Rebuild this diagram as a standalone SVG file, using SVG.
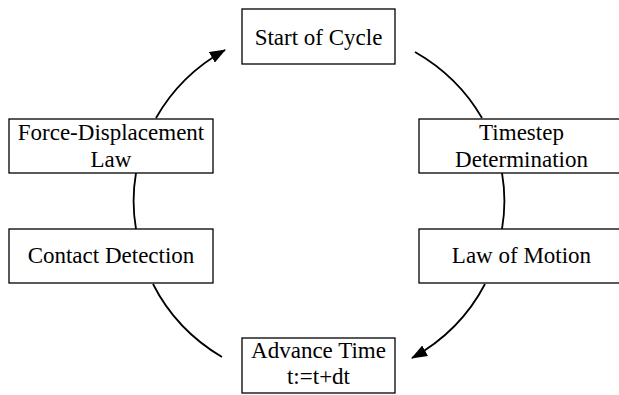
<svg xmlns="http://www.w3.org/2000/svg" width="619" height="395" viewBox="0 0 619 395">
<defs>
<style>
.box{fill:#fff;stroke:#000;stroke-width:1.3}
.lbl{font-family:"Liberation Serif","Times New Roman",serif;font-size:23px;fill:#000;text-anchor:middle}
.edge{fill:none;stroke:#000;stroke-width:1.8}
</style>
<marker id="arr" viewBox="0 0 16 12" refX="15" refY="6" markerWidth="16" markerHeight="12" markerUnits="userSpaceOnUse" orient="auto">
<path d="M0,0 L16,6 L0,12 z" fill="#000"/>
</marker>
</defs>
<rect width="619" height="395" fill="#fff"/>
<g id="connectors">
<path class="edge" d="M415,52 A186 175 0 0 1 482,118"/>
<path class="edge" d="M502,173 A186 175 0 0 1 502,229"/>
<path class="edge" d="M485,284 A186 175 0 0 1 412,358" marker-end="url(#arr)"/>
<path class="edge" d="M222,357 A186 175 0 0 1 153,284"/>
<path class="edge" d="M136,229 A186 175 0 0 1 136,173"/>
<path class="edge" d="M156,118 A186 175 0 0 1 225,50" marker-end="url(#arr)"/>
</g>
<g id="start">
<rect class="box" x="242" y="9" width="153" height="55"/>
<text class="lbl" x="318.5" y="45">Start of Cycle</text>
</g>
<g id="timestep">
<rect class="box" x="419" y="119" width="205" height="54"/>
<text class="lbl" x="521.5" y="140">Timestep</text>
<text class="lbl" x="521.5" y="167">Determination</text>
</g>
<g id="motion">
<rect class="box" x="419" y="229" width="205" height="54"/>
<text class="lbl" x="521.5" y="263">Law of Motion</text>
</g>
<g id="advance">
<rect class="box" x="242" y="338" width="153" height="55"/>
<text class="lbl" x="318.5" y="358">Advance Time</text>
<text class="lbl" x="318.5" y="384">t:=t+dt</text>
</g>
<g id="contact">
<rect class="box" x="9" y="229" width="204" height="54"/>
<text class="lbl" x="111" y="263">Contact Detection</text>
</g>
<g id="force">
<rect class="box" x="9" y="119" width="204" height="54"/>
<text class="lbl" x="111" y="140">Force-Displacement</text>
<text class="lbl" x="111" y="167">Law</text>
</g>
</svg>
